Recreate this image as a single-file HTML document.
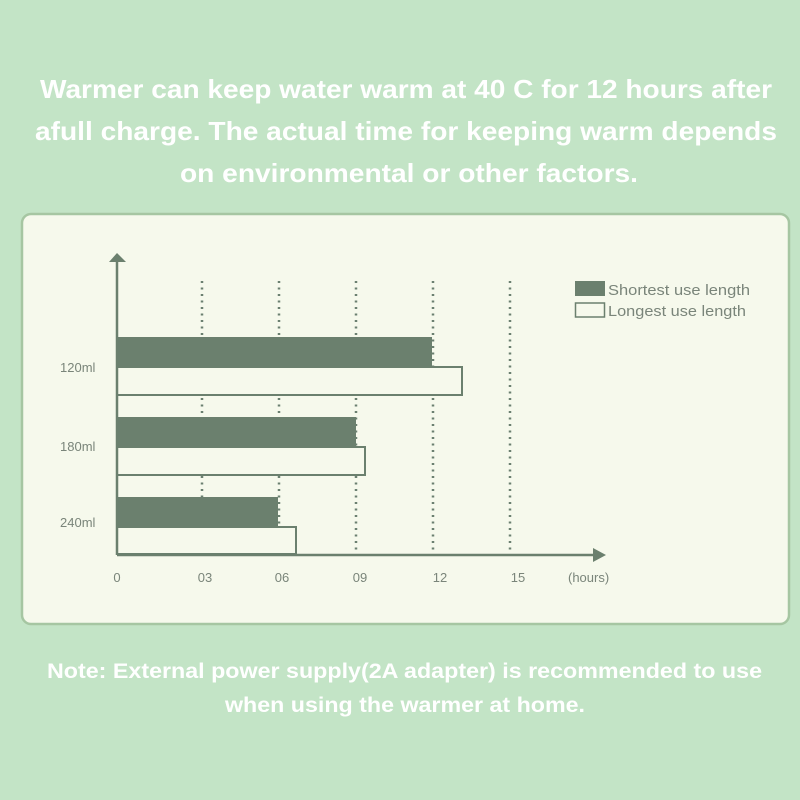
<!DOCTYPE html>
<html><head><meta charset="utf-8"><style>
html,body{margin:0;padding:0;background:#c3e4c6;}
svg{display:block;}
</style></head><body>
<svg width="800" height="800" viewBox="0 0 800 800" xmlns="http://www.w3.org/2000/svg" font-family="Liberation Sans, sans-serif">
<rect width="800" height="800" fill="#c3e4c6"/>
<g fill="#ffffff" font-weight="bold" font-size="26">
<text x="40" y="98" textLength="732" lengthAdjust="spacingAndGlyphs">Warmer can keep water warm at 40 C for 12 hours after</text>
<text x="35" y="140" textLength="742" lengthAdjust="spacingAndGlyphs">afull charge. The actual time for keeping warm depends</text>
<text x="180" y="182" textLength="458" lengthAdjust="spacingAndGlyphs">on environmental or other factors.</text>
</g>
<rect x="22" y="214" width="767" height="410" rx="9" fill="#f6f9ec" stroke="#a6c6a2" stroke-width="2.5"/>
<g stroke="#6b8070" stroke-width="2.5" stroke-dasharray="2,4.5">
<line x1="202" y1="281" x2="202" y2="555"/>
<line x1="279" y1="281" x2="279" y2="555"/>
<line x1="356" y1="281" x2="356" y2="555"/>
<line x1="433" y1="281" x2="433" y2="555"/>
<line x1="510" y1="281" x2="510" y2="555"/>
</g>
<g fill="#6b806e">
<rect x="117" y="337" width="315" height="31"/>
<rect x="117" y="417" width="239" height="31"/>
<rect x="117" y="497" width="161" height="31"/>
</g>
<g fill="#f6f9ec" stroke="#6b806e" stroke-width="2">
<rect x="117" y="367" width="345" height="28"/>
<rect x="117" y="447" width="248" height="28"/>
<rect x="117" y="527" width="179" height="27"/>
</g>
<g stroke="#6b806e" stroke-width="2.5" fill="#6b806e">
<line x1="117" y1="262" x2="117" y2="555"/>
<line x1="117" y1="555" x2="596" y2="555"/>
<polygon points="109,262 117,253 126,262" stroke="none"/>
<polygon points="593,548 606,555 593,562" stroke="none"/>
</g>
<rect x="575" y="281" width="30" height="15" fill="#6b806e"/>
<rect x="575.5" y="303" width="29" height="14" fill="#f6f9ec" stroke="#6b806e" stroke-width="1.5"/>
<g fill="#7a857a" font-size="15">
<text x="608" y="295" textLength="142" lengthAdjust="spacingAndGlyphs">Shortest use length</text>
<text x="608" y="316" textLength="138" lengthAdjust="spacingAndGlyphs">Longest use length</text>
</g>
<g fill="#7a857a" font-size="13">
<text x="60" y="372">120ml</text>
<text x="60" y="451">180ml</text>
<text x="60" y="527">240ml</text>
<text x="117" y="582" text-anchor="middle">0</text>
<text x="205" y="582" text-anchor="middle">03</text>
<text x="282" y="582" text-anchor="middle">06</text>
<text x="360" y="582" text-anchor="middle">09</text>
<text x="440" y="582" text-anchor="middle">12</text>
<text x="518" y="582" text-anchor="middle">15</text>
<text x="568" y="582">(hours)</text>
</g>
<g fill="#ffffff" font-weight="bold" font-size="21">
<text x="47" y="678" textLength="715" lengthAdjust="spacingAndGlyphs">Note: External power supply(2A adapter) is recommended to use</text>
<text x="225" y="712" textLength="360" lengthAdjust="spacingAndGlyphs">when using the warmer at home.</text>
</g>
</svg>
</body></html>
